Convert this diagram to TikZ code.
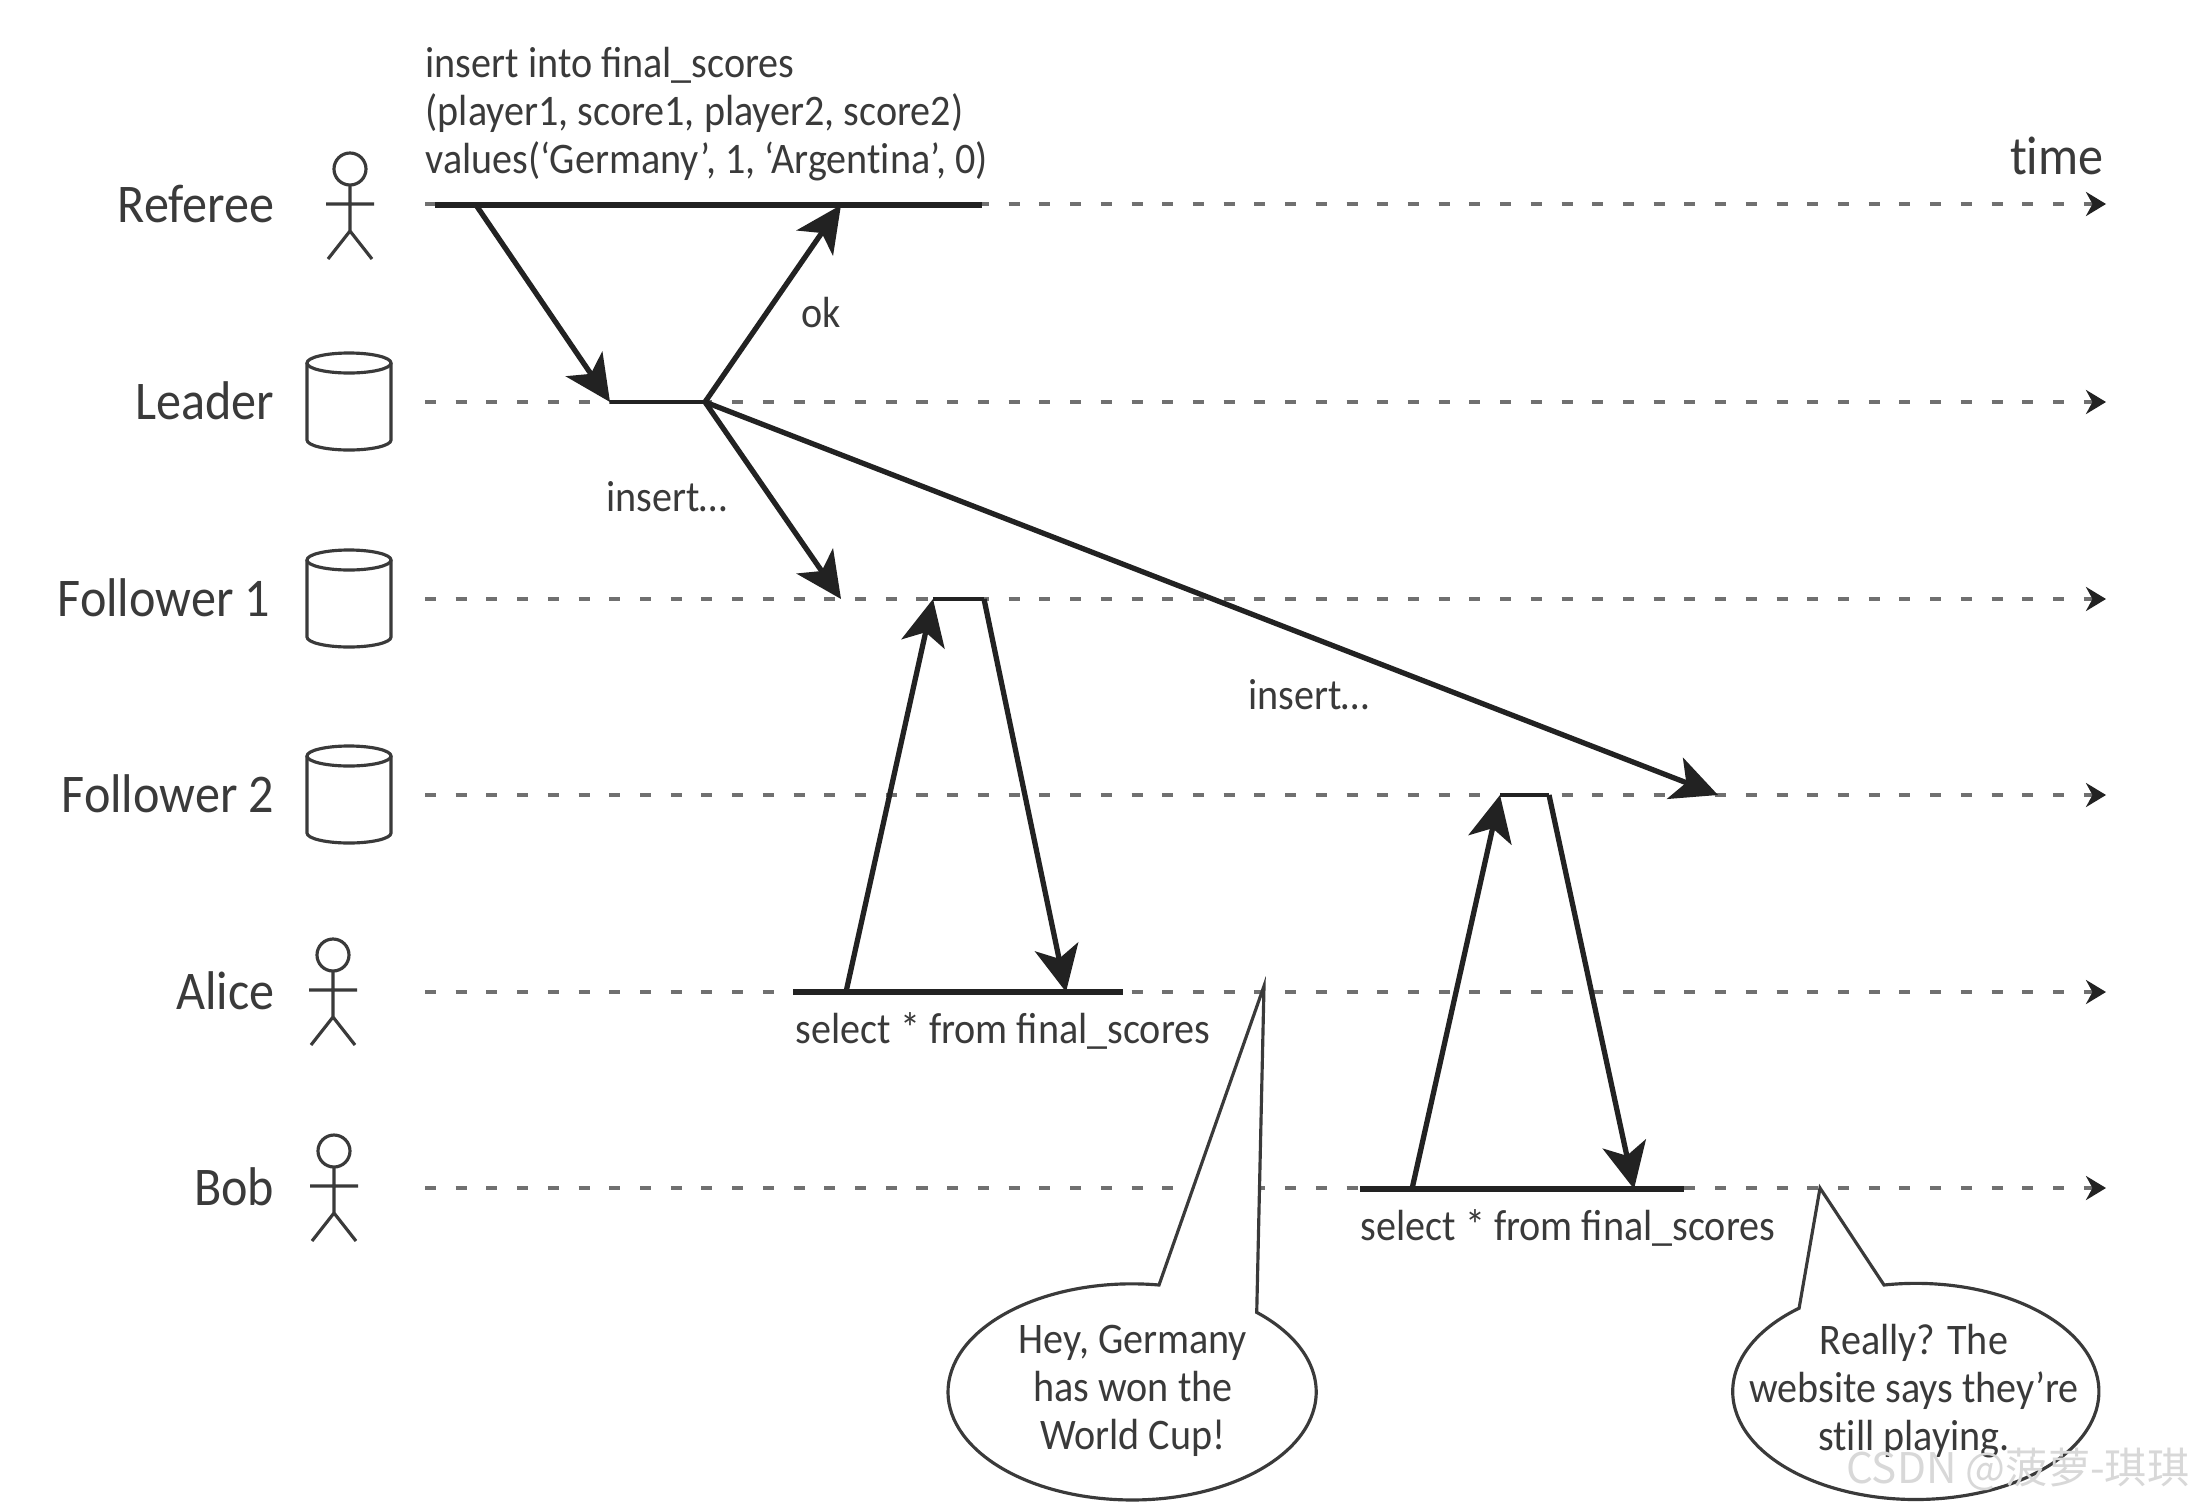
\documentclass[tikz,border=0pt]{standalone}
\usepackage{fontspec}
\setmainfont[FakeStretch=0.92]{Carlito}
\newfontfamily\cjkfont{Noto Sans CJK SC}
\usepackage{xcolor}
\usetikzlibrary{arrows.meta}
\definecolor{encre}{HTML}{3A3A3A}
\definecolor{trait}{HTML}{222222}
\definecolor{pointille}{HTML}{707070}
\definecolor{filigrane}{HTML}{D8D8D8}
\newcommand{\tsep}{t\kern0pt i}
\tikzset{
  nom/.style={font=\fontsize{15.5}{20}\selectfont, text=encre, anchor=east, inner sep=0pt},
  texte/.style={font=\fontsize{12.4}{13.6}\selectfont, text=encre, inner sep=0pt},
  bulletexte/.style={texte, align=center},
  temps/.style={line width=1pt, color=pointille, dash pattern=on 1.1mm off 1.97mm,
    -{Stealth[length=2mm, width=2.4mm, color=trait]}},
  barre/.style={line width=1.8pt, color=trait},
  barrefine/.style={line width=1.3pt, color=trait},
  fleche/.style={-{Stealth[length=4.6mm, width=4.4mm, inset=1.2mm]}, line width=1.5pt, color=trait},
  bulle/.style={draw=encre, line width=0.9pt, fill=white},
  contour/.style={draw=encre, line width=0.9pt},
  acteur/.pic={
    \draw[contour] (0,-35) circle (16);
    \draw[contour] (0,-19) -- (0,27) (-24,0) -- (24,0) (-22,55) -- (0,27) -- (22,55);
  },
  base/.pic={
    \draw[contour] (0,-39) ellipse [x radius=0.42cm, y radius=0.1cm];
    \draw[contour] (-42,-39) -- (-42,38)
      arc[start angle=180, end angle=360, x radius=0.42cm, y radius=0.1cm] -- (42,-39);
  }
}
\begin{document}
\begin{tikzpicture}[x=0.01cm, y=-0.01cm]
  \path[fill=white, use as bounding box] (0,0) rectangle (2194,1506);

  % lignes de temps
  \coordinate (refDebut) at (425,204);   \coordinate (refFin) at (2106,204);
  \coordinate (leadDebut) at (425,402);  \coordinate (leadFin) at (2106,402);
  \coordinate (fol1Debut) at (425,599);  \coordinate (fol1Fin) at (2106,599);
  \coordinate (fol2Debut) at (425,795);  \coordinate (fol2Fin) at (2106,795);
  \coordinate (aliceDebut) at (425,992); \coordinate (aliceFin) at (2106,992);
  \coordinate (bobDebut) at (425,1188);  \coordinate (bobFin) at (2106,1188);
  \draw[temps] (refDebut) -- (refFin);
  \draw[temps] (leadDebut) -- (leadFin);
  \draw[temps] (fol1Debut) -- (fol1Fin);
  \draw[temps] (fol2Debut) -- (fol2Fin);
  \draw[temps] (aliceDebut) -- (aliceFin);
  \draw[temps] (bobDebut) -- (bobFin);

  % acteurs et bases
  \node[nom] (referee) at (275,204) {Referee};
  \node[nom] (leader) at (275,401) {Leader};
  \node[nom] (follower1) at (271,598) {Follower 1};
  \node[nom] (follower2) at (275,794) {Follower 2};
  \node[nom] (alice) at (275,991) {Alice};
  \node[nom] (bob) at (275,1187) {Bob};
  \pic at (350,204) {acteur};
  \pic at (333,990) {acteur};
  \pic at (334,1186) {acteur};
  \pic at (349,402) {base};
  \pic at (349,599) {base};
  \pic at (349,795) {base};

  % segments pleins
  \coordinate (refA) at (435,205);   \coordinate (refB) at (982,205);
  \coordinate (refEnvoi) at (476,205); \coordinate (refRecu) at (841,205);
  \coordinate (leadA) at (610,402);  \coordinate (leadB) at (705,402);
  \coordinate (fol1A) at (933,599);  \coordinate (fol1B) at (984,599);
  \coordinate (fol1Recu) at (841,599);
  \coordinate (fol2A) at (1500,795); \coordinate (fol2B) at (1549,795);
  \coordinate (fol2Recu) at (1718,795);
  \coordinate (aliceA) at (793,992); \coordinate (aliceB) at (1123,992);
  \coordinate (aliceEnvoi) at (846,992); \coordinate (aliceRecu) at (1066,992);
  \coordinate (bobA) at (1360,1189); \coordinate (bobB) at (1684,1189);
  \coordinate (bobEnvoi) at (1412,1189); \coordinate (bobRecu) at (1634,1189);
  \draw[barre] (refA) -- (refB);
  \draw[barrefine] (leadA) -- (leadB);
  \draw[barrefine] (fol1A) -- (fol1B);
  \draw[barrefine] (fol2A) -- (fol2B);
  \draw[barre] (aliceA) -- (aliceB);
  \draw[barre] (bobA) -- (bobB);

  % messages
  \draw[fleche] (refEnvoi) -- (leadA);
  \draw[fleche] (leadB) -- (refRecu);
  \draw[fleche] (leadB) -- (fol1Recu);
  \draw[fleche] (leadB) -- (fol2Recu);
  \draw[fleche] (aliceEnvoi) -- (fol1A);
  \draw[fleche] (fol1B) -- (aliceRecu);
  \draw[fleche] (bobEnvoi) -- (fol2A);
  \draw[fleche] (fol2B) -- (bobRecu);

  % textes
  \node[texte, anchor=west, align=left] (requete) at (425,114)
    {insert into final\_scores\\(player1, score1, player2, score2)\\values(‘Germany’, 1, ‘Argen\tsep na’, 0)};
  \node[nom] (temps) at (2104,156) {\tsep me};
  \node[texte] (ok) at (821,313) {ok};
  \node[texte] (insert1) at (667,497) {insert…};
  \node[texte] (insert2) at (1309,695) {insert…};
  \node[texte, anchor=west] (select1) at (795,1031) {select * from final\_scores};
  \node[texte, anchor=west] (select2) at (1360,1228) {select * from final\_scores};

  % bulles
  \coordinate (pointeA) at (1264,986);
  \coordinate (pointeB) at (1820,1188);
  \coordinate (queueA) at (1159,1285);
  \coordinate (queueB) at (1884,1285);
  \draw[bulle] (pointeA) -- (queueA)
    arc[start angle=81.6, end angle=407.4, x radius=1.84cm, y radius=1.08cm] -- cycle;
  \draw[bulle] (pointeB) -- (queueB)
    arc[start angle=100, end angle=-230.4, x radius=1.83cm, y radius=1.08cm] -- cycle;
  \node[bulletexte] (bulleAlice) at (1133,1391) {Hey, Germany\\has won the\\World Cup!};
  \node[bulletexte] (bulleBob) at (1914,1391) {Really? The\\website says they’re\\s\tsep ll playing.};

  \node[font=\fontsize{12}{14}\cjkfont\selectfont, text=filigrane, anchor=east, inner sep=0pt] (filigrane) at (2190,1469) {CSDN @菠萝-琪琪};
\end{tikzpicture}
\end{document}
